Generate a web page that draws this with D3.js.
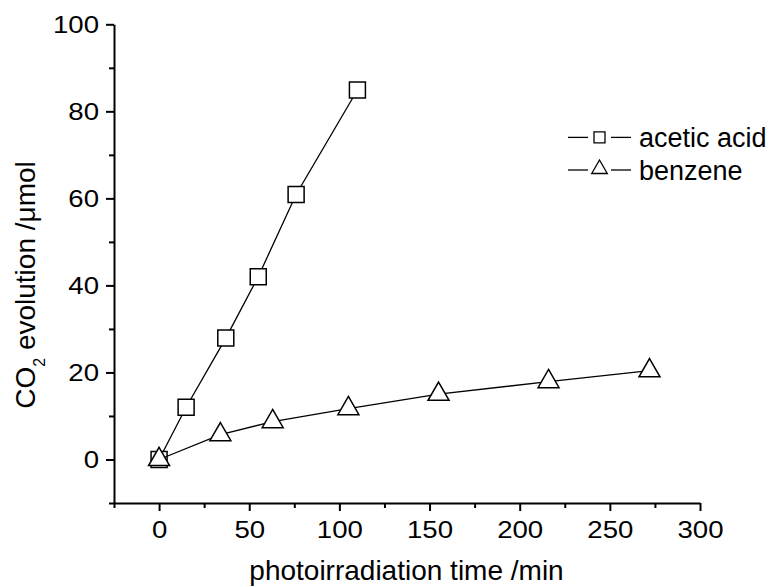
<!DOCTYPE html>
<html>
<head>
<meta charset="utf-8">
<script src="https://cdn.jsdelivr.net/npm/d3@7"></script>
<style>
  body { margin: 0; background: #fff; }
  text { font-family: "Liberation Sans", Arial, sans-serif; fill: #000; }
</style>
</head>
<body>
<div id="chart"></div>
<script>
// data
const aceticTime = [0, 15, 37, 55, 76, 110];
const aceticCO2  = [0, 12, 27.9, 42, 60.9, 84.9];
const benzeneTime = [0, 34, 63, 105, 155, 216, 272];
const benzeneCO2  = [0, 5.7, 8.7, 11.7, 15.0, 17.9, 20.4];
const seriesNames = ["acetic acid", "benzene"];
const xTicks = [0, 50, 100, 150, 200, 250, 300];
const xMinor = [-25, 25, 75, 125, 175, 225, 275];
const yTicks = [0, 20, 40, 60, 80, 100];
const yMinor = [-10, 10, 30, 50, 70, 90];

const width = 775, height = 587;
const svg = d3.select("#chart").append("svg").attr("width", width).attr("height", height);

const x = d3.scaleLinear().domain([-25, 300]).range([114, 700]);
const y = d3.scaleLinear().domain([-10, 100]).range([503, 24.3]);

function stretchLabels(g) {
  g.selectAll(".tick text").each(function () {
    const t = d3.select(this);
    const tx = +t.attr("x") || 0, ty = +t.attr("y") || 0;
    t.attr("x", 0).attr("y", 0).attr("transform", `translate(${tx},${ty}) scale(1.2,1)`);
  });
}

// minor ticks first
svg.append("g").attr("transform", `translate(0,${y(-10)})`)
  .call(d3.axisBottom(x).tickValues(xMinor).tickSize(5).tickFormat(""))
  .call(g => g.select(".domain").remove())
  .selectAll("line").attr("stroke-width", 2);
svg.append("g").attr("transform", `translate(${x(-25)},0)`)
  .call(d3.axisLeft(y).tickValues(yMinor).tickSize(5).tickFormat(""))
  .call(g => g.select(".domain").remove())
  .selectAll("line").attr("stroke-width", 2);

const gx = svg.append("g").attr("transform", `translate(0,${y(-10)})`)
  .call(d3.axisBottom(x).tickValues(xTicks).tickSize(8).tickSizeOuter(0).tickPadding(11))
  .attr("font-size", 23).attr("font-family", "Liberation Sans, Arial, sans-serif");
gx.select(".domain").attr("stroke-width", 2);
gx.selectAll(".tick line").attr("stroke-width", 2);
stretchLabels(gx);

const gy = svg.append("g").attr("transform", `translate(${x(-25)},0)`)
  .call(d3.axisLeft(y).tickValues(yTicks).tickSize(8).tickSizeOuter(0).tickPadding(7))
  .attr("font-size", 23).attr("font-family", "Liberation Sans, Arial, sans-serif");
gy.select(".domain").attr("stroke-width", 2);
gy.selectAll(".tick line").attr("stroke-width", 2);
gy.selectAll(".tick text").attr("dy", "0.36em");
stretchLabels(gy);

// axis titles
svg.append("text")
  .attr("x", 406.5).attr("y", 580)
  .attr("text-anchor", "middle").attr("font-size", 28)
  .text("photoirradiation time /min");

const yt = svg.append("text")
  .attr("transform", "translate(35,285) rotate(-90)")
  .attr("text-anchor", "middle").attr("font-size", 28);
yt.append("tspan").text("CO");
yt.append("tspan").attr("font-size", 16).attr("dy", 10).text("2");
yt.append("tspan").attr("dy", -10).text(" evolution /\u03bcmol");

// series
const line = d3.line().x(d => x(d[0])).y(d => y(d[1]));
const acetic = aceticTime.map((t, i) => [t, aceticCO2[i]]);
const benzene = benzeneTime.map((t, i) => [t, benzeneCO2[i]]);
const square = d3.symbol(d3.symbolSquare).size(256);
const triangle = d3.symbol(d3.symbolTriangle).size(191);

svg.append("path").datum(acetic).attr("d", line)
  .attr("fill", "none").attr("stroke", "#000").attr("stroke-width", 1.3);
svg.selectAll(".sq").data(acetic).enter().append("path")
  .attr("class", "sq")
  .attr("d", square)
  .attr("transform", d => `translate(${x(d[0])},${y(d[1])})`)
  .attr("fill", "#fff").attr("stroke", "#000").attr("stroke-width", 1.5);

svg.append("path").datum(benzene).attr("d", line)
  .attr("fill", "none").attr("stroke", "#000").attr("stroke-width", 1.3);
svg.selectAll(".tri").data(benzene).enter().append("path")
  .attr("class", "tri")
  .attr("d", triangle)
  .attr("transform", d => `translate(${x(d[0])},${y(d[1])})`)
  .attr("fill", "#fff").attr("stroke", "#000").attr("stroke-width", 1.5);

// legend: dash, symbol, dash, label
const legend = svg.append("g").attr("transform", "translate(568,137.4)");
const legendSymbols = [d3.symbol(d3.symbolSquare).size(121), d3.symbol(d3.symbolTriangle).size(105)];
seriesNames.forEach((name, i) => {
  const row = legend.append("g").attr("transform", `translate(0,${i * 32.6})`);
  [[0, 20], [43, 63]].forEach(seg => {
    row.append("line").attr("x1", seg[0]).attr("x2", seg[1]).attr("y1", 0).attr("y2", 0)
      .attr("stroke", "#000").attr("stroke-width", 1.3);
  });
  row.append("path").attr("d", legendSymbols[i]).attr("transform", `translate(31.5,${i ? -1 : 0})`)
    .attr("fill", "#fff").attr("stroke", "#000").attr("stroke-width", 1.3);
  row.append("text").attr("x", 71).attr("y", 9.5).attr("font-size", 27).text(name);
});
</script>
</body>
</html>
